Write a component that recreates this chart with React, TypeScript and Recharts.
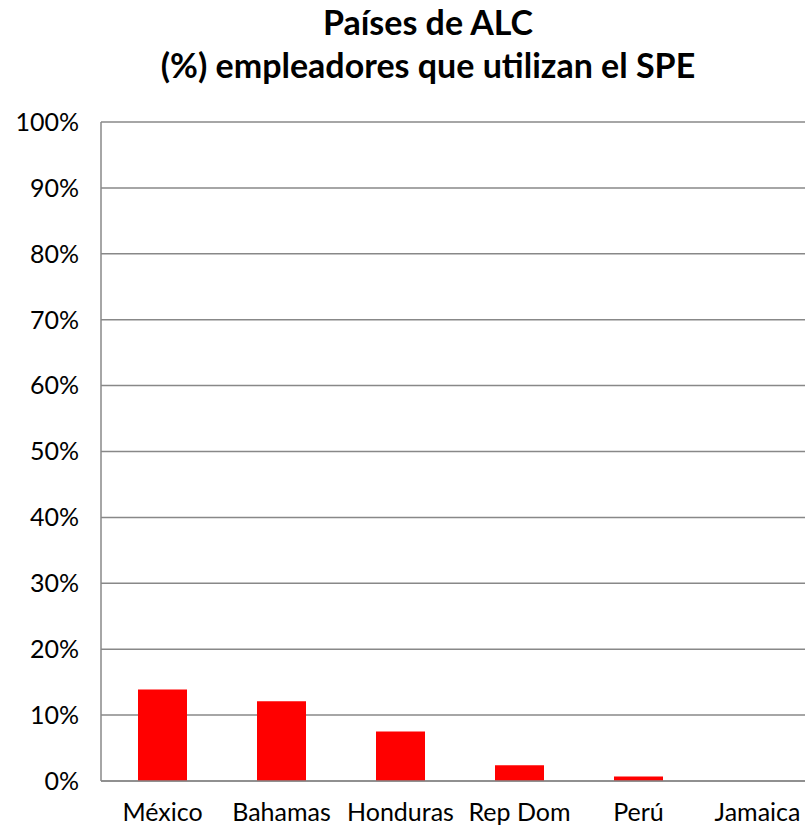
import { BarChart, Bar, XAxis, YAxis, CartesianGrid, Cell } from 'recharts';

const countries = ['México', 'Bahamas', 'Honduras', 'Rep Dom', 'Perú', 'Jamaica'];
const shares = [13.9, 12.1, 7.5, 2.4, 0.7, 0];
const yTicks = [0, 10, 20, 30, 40, 50, 60, 70, 80, 90, 100];

const FONT = 'Lato, "Open Sans", sans-serif';

const data = countries.map((c, i) => ({ country: c, share: shares[i] }));

export default function App() {
    return (
        <div style={{ position: 'absolute', left: 0, top: 0, width: 805, height: 827, overflow: 'hidden', background: '#fff', fontFamily: FONT }}>
            <div style={{ position: 'absolute', left: 0, width: 856, top: 0, textAlign: 'center', fontWeight: 700, fontSize: 34, lineHeight: '43px', color: '#000' }}>
                <div>Países de ALC</div>
                <div>(%) empleadores que utilizan el SPE</div>
            </div>
            <BarChart
                width={817}
                height={827}
                data={data}
                margin={{ top: 122, right: 0, bottom: 0, left: 0 }}
                barSize={49}
            >
                <CartesianGrid vertical={false} stroke="#888" strokeWidth={1.5} />
                <XAxis
                    dataKey="country"
                    height={46}
                    padding={{ left: 2 }}
                    tickLine={false}
                    axisLine={{ stroke: '#888', strokeWidth: 1.5 }}
                    tickMargin={16}
                    tick={{ fill: '#000', fontSize: 25, fontFamily: FONT }}
                    interval={0}
                />
                <YAxis
                    width={101}
                    domain={[0, 100]}
                    ticks={yTicks}
                    tickFormatter={(v) => `${v}%`}
                    tickLine={false}
                    axisLine={{ stroke: '#888', strokeWidth: 1.5 }}
                    tickMargin={16}
                    tick={{ fill: '#000', fontSize: 25, fontFamily: FONT }}
                />
                <Bar dataKey="share" isAnimationActive={false}>
                    {data.map((_, i) => (
                        <Cell key={i} fill="#ff0000" />
                    ))}
                </Bar>
            </BarChart>
        </div>
    );
}
